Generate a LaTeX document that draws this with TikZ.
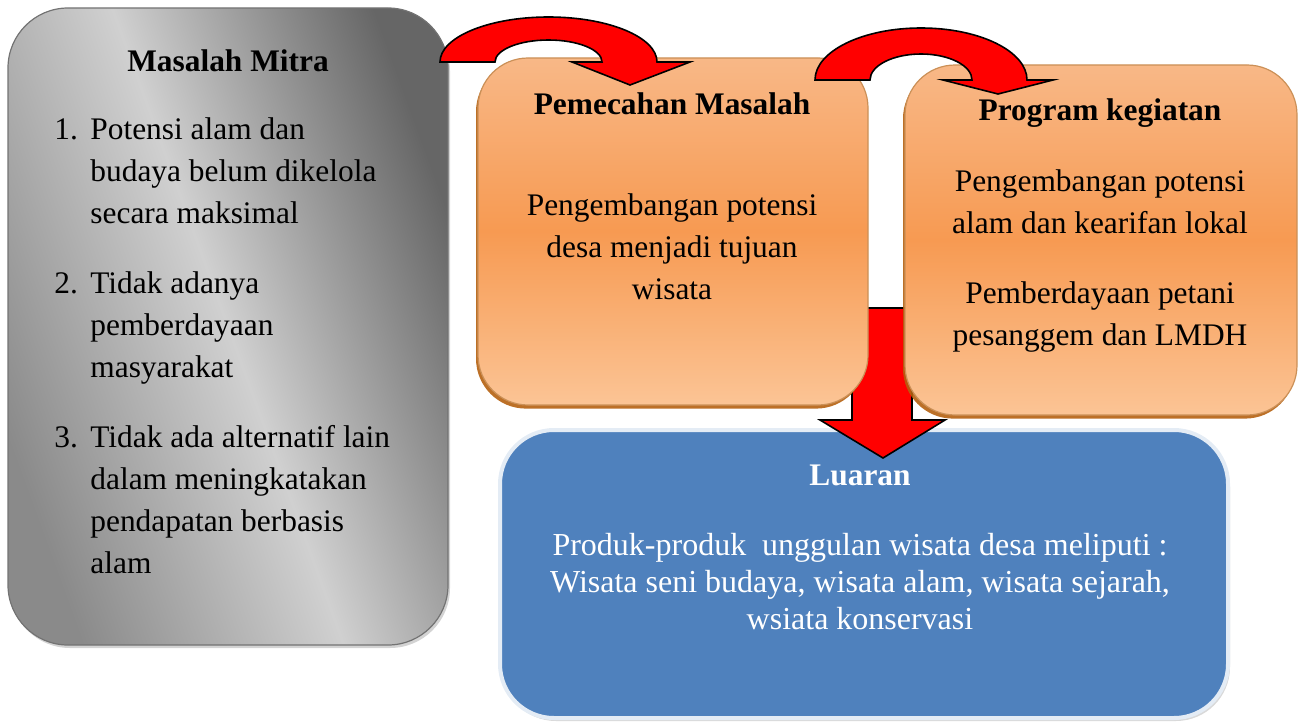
\documentclass[tikz,border=0pt]{standalone}
\usepackage{fontspec}
\setmainfont{Liberation Serif}
\usetikzlibrary{shadows}
\definecolor{mitradark}{HTML}{666666}
\definecolor{mitralight}{HTML}{D0D0D0}
\definecolor{mitramid}{HTML}{8A8A8A}
\definecolor{orangetop}{HTML}{F8B887}
\definecolor{orangemid}{HTML}{F79A52}
\definecolor{orangelow}{HTML}{FBC495}
\definecolor{orangeedge}{HTML}{B5600F}
\definecolor{luaranblue}{HTML}{4F81BD}
\definecolor{blueedge}{HTML}{E4ECF5}
\tikzset{
  box/.style = {inner sep=0pt, rounded corners=25pt},
  graybox/.style = {box, rounded corners=30pt, draw=black!55, line width=0.6pt,
    shade, top color=mitradark, bottom color=mitramid, middle color=mitralight,
    shading angle=-70, drop shadow={shadow xshift=1pt, shadow yshift=-1.5pt, opacity=0.35}},
  orangebox/.style = {box, draw=orangeedge!70, line width=0.6pt,
    shade, top color=orangetop, bottom color=orangelow, middle color=orangemid,
    drop shadow={shadow xshift=-1pt, shadow yshift=-1.8pt, fill=orangeedge, opacity=0.9}},
  bluebox/.style = {box, rounded corners=27pt, fill=luaranblue, draw=blueedge, line width=2pt,
    drop shadow={shadow xshift=1pt, shadow yshift=-1.5pt, opacity=0.3}},
  txt/.style = {inner sep=0pt, align=center, font=\fontsize{15.7}{21}\selectfont},
  title/.style = {txt, font=\fontsize{15.7}{21}\selectfont\bfseries},
  redarrow/.style = {fill=red, draw=black, line width=0.8pt, line join=miter},
}

\begin{document}
\begin{tikzpicture}[x=0.5pt, y=-0.5pt]
\useasboundingbox (0,0) rectangle (1304,722);

% kotak masalah mitra (base = baris terakhir)
\node [graybox, minimum width=220pt, minimum height=318.5pt] (mitra) at (228,326.5) {};
\node [title, anchor=base] (mitratitle) at (228,72) {Masalah Mitra};
\node [txt, anchor=base west] (num1) at (54,139) {1.};
\node [txt, align=left, anchor=base west] (item1) at (90,223) {Potensi alam dan\\budaya belum dikelola\\secara maksimal};
\node [txt, anchor=base west] (num2) at (54,293) {2.};
\node [txt, align=left, anchor=base west] (item2) at (90,377) {Tidak adanya\\pemberdayaan\\masyarakat};
\node [txt, anchor=base west] (num3) at (54,447) {3.};
\node [txt, align=left, anchor=base west] (item3) at (90,573) {Tidak ada alternatif lain\\dalam meningkatakan\\pendapatan berbasis\\alam};

% kotak luaran
\node [bluebox, minimum width=364pt, minimum height=144pt] (luaran) at (864,574) {};
\node [title, white, anchor=base] (luarantitle) at (860,485) {Luaran};
\node [txt, white, anchor=base, font=\fontsize{16}{18.5}\selectfont] (luarantext) at (860,629)
  {Produk-produk\ \ unggulan wisata desa meliputi :\\Wisata seni budaya, wisata alam, wisata sejarah,\\wsiata konservasi};

% panah ke bawah
\draw [redarrow] (852,308) -- (912,308) -- (912,420) -- (945,420) -- (883,458)
  -- (820,420) -- (852,420) -- cycle;

% kotak pemecahan masalah dan program kegiatan
\node [orangebox, minimum width=195pt, minimum height=173.5pt] (pemecahan) at (673,231.5) {};
\node [title, anchor=base] (pemecahantitle) at (672,114) {Pemecahan Masalah};
\node [txt, anchor=base] (pemecahantext) at (672,299) {Pengembangan potensi\\desa menjadi tujuan\\wisata};
\node [orangebox, minimum width=196pt, minimum height=175pt] (program) at (1101,240) {};
\node [title, anchor=base] (programtitle) at (1100,120) {Program kegiatan};
\node [txt, anchor=base] (program1) at (1100,233) {Pengembangan potensi\\alam dan kearifan lokal};
\node [txt, anchor=base] (program2) at (1100,345) {Pemberdayaan petani\\pesanggem dan LMDH};

% panah lengkung
\draw [redarrow] (440,62) arc [start angle=180, end angle=360, x radius=108.5, y radius=45]
  -- (690,62) -- (630,85) -- (572,62) -- (602,62)
  arc [start angle=360, end angle=180, x radius=53.5, y radius=22] -- cycle;
\draw [redarrow] (815,80) arc [start angle=180, end angle=360, x radius=106, y radius=52]
  -- (1053,80) -- (998,94) -- (943,80) -- (972,80)
  arc [start angle=360, end angle=180, x radius=51, y radius=26] -- cycle;
\end{tikzpicture}
\end{document}
